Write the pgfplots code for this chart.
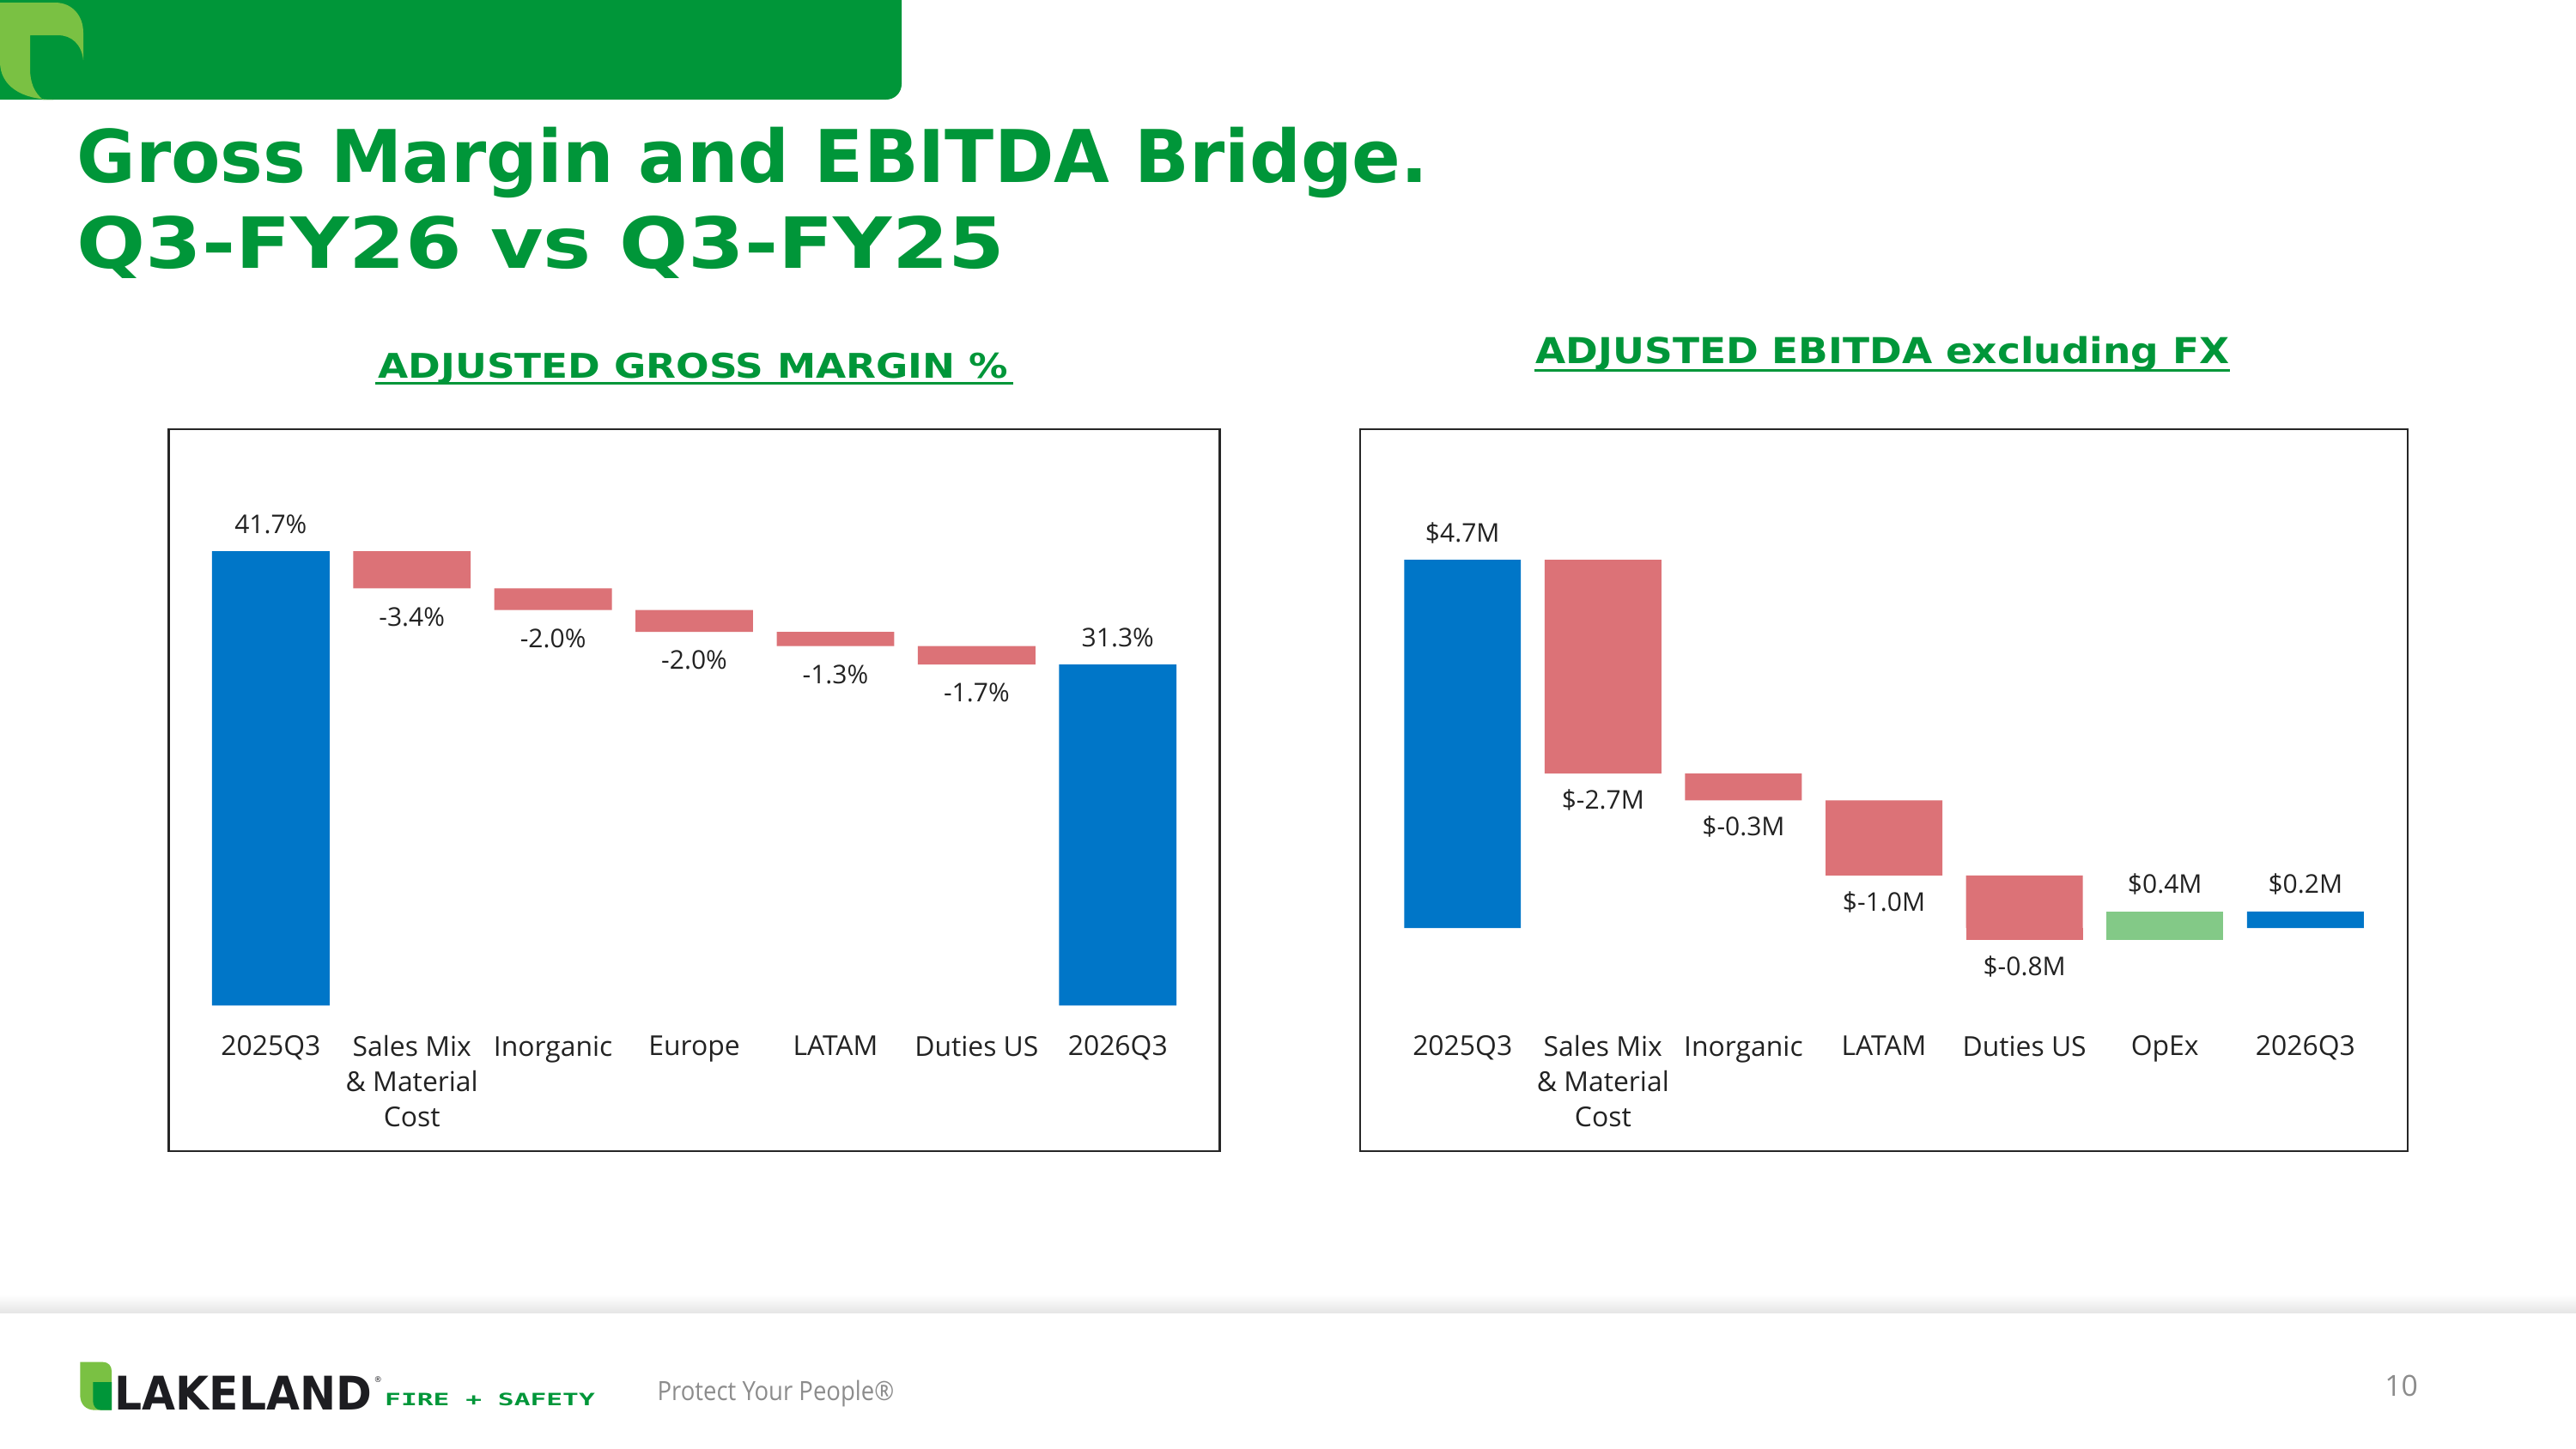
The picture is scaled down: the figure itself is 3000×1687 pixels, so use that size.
\documentclass[border=0pt]{standalone}
\usepackage{fontspec}
\setmainfont{Open Sans}
\newfontfamily\dejavu{DejaVu Sans}
\newfontfamily\dejavumono{DejaVu Sans Mono}
\usepackage{graphicx}
\usepackage{pgfplots}
\pgfplotsset{compat=1.18}
\usepackage{pgfplotstable}

\definecolor{brandgreen}{RGB}{0,150,57}
\definecolor{leafgreen}{RGB}{122,193,67}
\definecolor{barblue}{RGB}{0,118,200}
\definecolor{barred}{RGB}{220,114,119}
\definecolor{bargreen}{RGB}{131,201,135}
\definecolor{framegray}{RGB}{38,38,38}
\definecolor{labelgray}{RGB}{34,34,34}
\definecolor{footgray}{RGB}{140,140,140}
\definecolor{logoblack}{RGB}{29,29,33}

% Adjusted gross margin bridge (%): invisible base + visible segment
\pgfplotstableread{
x base blue red
0 0    41.7 0
1 38.3 0    3.4
2 36.3 0    2.0
3 34.3 0    2.0
4 33.0 0    1.3
5 31.3 0    1.7
6 0    31.3 0
}\gmbars

% Adjusted EBITDA bridge excluding FX ($M)
% negative stacks are built separately, so steps that cross zero
% are split into a part above and a part below the baseline
\pgfplotstableread{
x base  blue red  green redneg greenneg
0 0     4.70 0    0     0      0
1 1.97  0    2.73 0     0      0
2 1.63  0    0.34 0     0      0
3 0.67  0    0.96 0     0      0
4 0     0    0.67 0     -0.15  0
5 0     0    0    0.21  0      -0.15
6 0     0.21 0    0     0      0
}\ebitdabars

\pgfplotsset{
  bridgeframe/.style={
    scale only axis, anchor=south west, height=269.12pt,
    enlargelimits=false,
  },
  bridgebars/.style={
    bridgeframe,
    ybar stacked,
    axis line style={draw=framegray, line width=0.9pt},
    ytick=\empty, xtick={0,...,6}, major tick length=0pt,
    xticklabel style={anchor=north, inner sep=0pt, yshift=43.2pt, align=center,
      font=\fontsize{10.2}{13}\selectfont, text=labelgray},
  },
  bridgelabels/.style={
    bridgeframe, hide axis, clip=false,
  },
  labelabove/.style={draw=none, nodes near coords, point meta=explicit symbolic,
    nodes near coords style={anchor=base, yshift=6.7pt, inner sep=0pt,
      font=\fontsize{9.6}{11}\selectfont, text=labelgray}},
  labelbelow/.style={draw=none, nodes near coords, point meta=explicit symbolic,
    nodes near coords style={anchor=base, yshift=-#1, inner sep=0pt,
      font=\fontsize{9.6}{11}\selectfont, text=labelgray}},
}

\begin{document}
\begin{tikzpicture}
\begin{scope}[x=0.32pt, y=-0.32pt]
  % page
  \fill[white] (0,0) rectangle (3000,1687);
  % header band with leaf
  \fill[brandgreen] (0,0) -- (1050,0) -- (1050,98) arc[start angle=0, end angle=90, radius=18] -- (0,116) -- cycle;
  \fill[leafgreen] (0,3) -- (64,3) .. controls (84,3) and (97,18) .. (97,38) -- (97,70)
      .. controls (95,52) and (84,41) .. (67,41) -- (35,41) -- (35,80)
      .. controls (35,96) and (40,108) .. (50,116) -- (62,116)
      .. controls (25,116) and (0,100) .. (0,72) -- cycle;
  % title
  \node[anchor=base west, inner sep=0pt, text=brandgreen] at (88.7,212.7)
    {\resizebox{503.7pt}{20.6pt}{\dejavu\bfseries Gross Margin and EBITDA Bridge.}};
  \node[anchor=base west, inner sep=0pt, text=brandgreen] at (88.7,312.7)
    {\resizebox{345.9pt}{19.5pt}{\dejavu\bfseries Q3-FY26 vs Q3-FY25}};
  % chart headings
  \node[anchor=base west, inner sep=0pt, text=brandgreen] at (439.9,440)
    {\resizebox{234.8pt}{9.4pt}{\dejavu\bfseries ADJUSTED GROSS MARGIN \%}};
  \draw[brandgreen, line width=0.7pt] (437.4,446.5) -- (1179.7,446.5);
  \node[anchor=base west, inner sep=0pt, text=brandgreen] at (1787.9,423.3)
    {\resizebox{258.5pt}{10.1pt}{\dejavu\bfseries ADJUSTED EBITDA excluding FX}};
  \draw[brandgreen, line width=0.7pt] (1786.7,431.5) -- (2597,431.5);
  % footer
  \shade[top color=white, bottom color=black!10] (0,1508) rectangle (3000,1529);
  \fill[leafgreen] (93.3,1586.7) -- (120,1586.7) .. controls (126,1586.7) and (130,1591) .. (130,1597)
      -- (130,1642.7) -- (111,1642.7) .. controls (100,1642.7) and (93.3,1636) .. (93.3,1625) -- cycle;
  \fill[brandgreen] (108.3,1610) -- (130,1610) -- (130,1642.7) -- (118,1642.7)
      .. controls (112,1642.7) and (108.3,1638) .. (108.3,1632) -- cycle;
  \node[anchor=south west, inner sep=0pt, text=logoblack] at (133.3,1642.7)
    {\resizebox{95.8pt}{12.6pt}{\dejavu\bfseries LAKELAND}};
  \node[anchor=south west, inner sep=0pt, text=logoblack, font=\dejavu\fontsize{3}{3}\selectfont] at (435,1611) {®};
  \node[anchor=south west, inner sep=0pt, text=brandgreen] at (447.6,1638.7)
    {\resizebox{78.3pt}{4.7pt}{\dejavumono\bfseries FIRE + SAFETY}};
  \node[anchor=base west, inner sep=0pt, text=footgray] at (765,1631.7)
    {\resizebox{88.2pt}{7.5pt}{\fontsize{10}{12}\selectfont Protect Your People®}};
  \node[anchor=base west, inner sep=0pt, text=footgray, font=\fontsize{10.8}{13}\selectfont] at (2776.7,1626) {10};
\end{scope}

% ---------- Adjusted gross margin % ----------
\begin{axis}[bridgebars, at={(62.82pt,-429.12pt)}, width=391.84pt,
  xmin=-0.724, xmax=6.724, ymin=-13.37, ymax=52.9, bar width=43.8pt,
  xticklabels={2025Q3,{Sales Mix\\\& Material\\Cost},Inorganic,Europe,LATAM,Duties US,2026Q3}]
  \addplot[fill=none, draw=none] table[x=x, y=base] {\gmbars};
  \addplot[fill=barblue, draw=none] table[x=x, y=blue] {\gmbars};
  \addplot[fill=barred, draw=none] table[x=x, y=red] {\gmbars};
\end{axis}
\begin{axis}[bridgelabels, at={(62.82pt,-429.12pt)}, width=391.84pt,
  xmin=-0.724, xmax=6.724, ymin=-13.37, ymax=52.9]
  \addplot[labelabove] coordinates {(0,41.7) [41.7\%] (6,31.3) [31.3\%]};
  \addplot[labelbelow=14pt] coordinates {(1,38.3) [-3.4\%] (2,36.3) [-2.0\%] (3,34.3) [-2.0\%]
    (4,33.0) [-1.3\%] (5,31.3) [-1.7\%]};
\end{axis}

% ---------- Adjusted EBITDA excluding FX ----------
\begin{axis}[bridgebars, at={(506.88pt,-429.12pt)}, width=390.4pt,
  xmin=-0.729, xmax=6.728, ymin=-2.847, ymax=6.365, bar width=43.5pt,
  xticklabels={2025Q3,{Sales Mix\\\& Material\\Cost},Inorganic,LATAM,Duties US,OpEx,2026Q3}]
  \addplot[fill=none, draw=none] table[x=x, y=base] {\ebitdabars};
  \addplot[fill=barblue, draw=none] table[x=x, y=blue] {\ebitdabars};
  \addplot[fill=barred, draw=none] table[x=x, y=red] {\ebitdabars};
  \addplot[fill=bargreen, draw=none] table[x=x, y=green] {\ebitdabars};
  \addplot[fill=barred, draw=none] table[x=x, y=redneg] {\ebitdabars};
  \addplot[fill=bargreen, draw=none] table[x=x, y=greenneg] {\ebitdabars};
\end{axis}
\begin{axis}[bridgelabels, at={(506.88pt,-429.12pt)}, width=390.4pt,
  xmin=-0.729, xmax=6.728, ymin=-2.847, ymax=6.365]
  \addplot[labelabove] coordinates {(0,4.70) [\$4.7M] (5,0.21) [\$0.4M] (6,0.21) [\$0.2M]};
  \addplot[labelbelow=13.2pt] coordinates {(1,1.97) [\$-2.7M] (2,1.63) [\$-0.3M] (3,0.67) [\$-1.0M]
    (4,-0.15) [\$-0.8M]};
\end{axis}
\end{tikzpicture}
\end{document}
